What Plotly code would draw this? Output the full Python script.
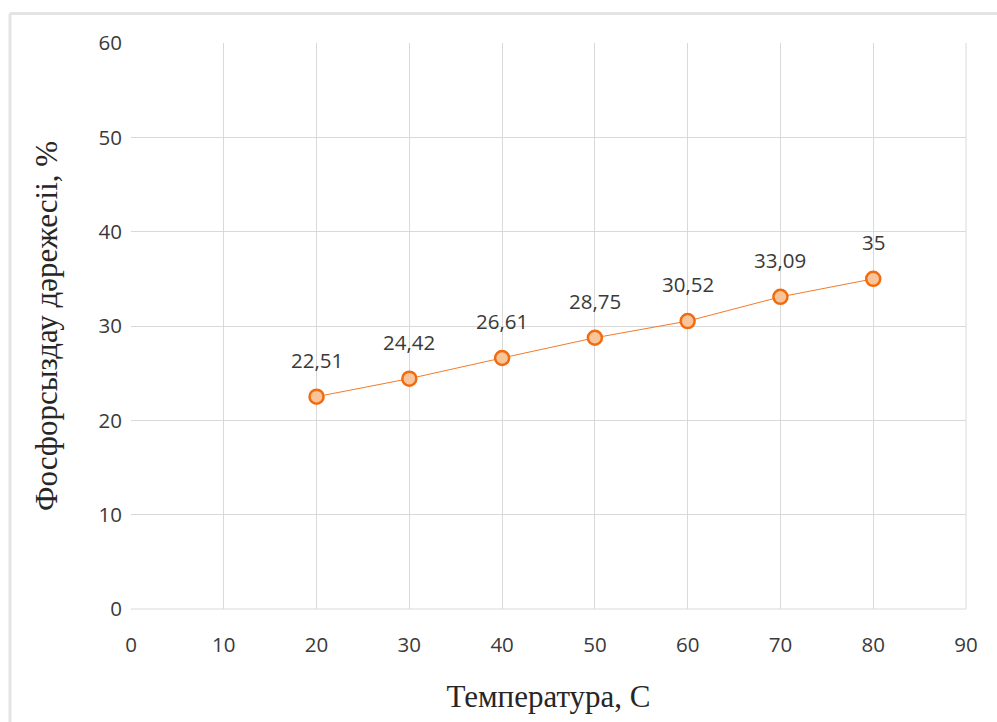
import plotly.graph_objects as go

# Temperature (°C) and dephosphorization degree (%)
temperature = [20, 30, 40, 50, 60, 70, 80]
degree = [22.51, 24.42, 26.61, 28.75, 30.52, 33.09, 35]
degree_labels = ["22,51", "24,42", "26,61", "28,75", "30,52", "33,09", "35"]

x_ticks = [0, 10, 20, 30, 40, 50, 60, 70, 80, 90]
y_ticks = [0, 10, 20, 30, 40, 50, 60]

W, H = 997, 722
L, R, T, B = 131, 31, 43, 113
pw, ph = W - L - R, H - T - B

fig = go.Figure()
fig.add_trace(go.Scatter(
    x=temperature, y=degree, mode="lines+markers",
    line=dict(color="#f47a2a", width=1),
    marker=dict(size=14, color="#f8c49a", line=dict(color="#f26b0f", width=2.5)),
    hoverinfo="skip", showlegend=False,
))

label_font = dict(family="Open Sans, Liberation Sans, sans-serif", size=20.5, color="#3a3a3a")
for xv, yv, lab in zip(temperature, degree, degree_labels):
    fig.add_annotation(x=xv, y=yv, text=lab, showarrow=False, yshift=37, font=label_font)

# light frame around the chart area (top and left edges)
def px_to_paper_x(px):
    return (px - L) / pw

def px_to_paper_y(py):
    return (H - B - py) / ph

fig.add_shape(type="line", xref="paper", yref="paper",
              x0=px_to_paper_x(10), x1=px_to_paper_x(10),
              y0=px_to_paper_y(H + 5), y1=px_to_paper_y(13.5),
              line=dict(color="#e4e4e4", width=3))
fig.add_shape(type="line", xref="paper", yref="paper",
              x0=px_to_paper_x(10), x1=px_to_paper_x(W + 5),
              y0=px_to_paper_y(13.5), y1=px_to_paper_y(13.5),
              line=dict(color="#e4e4e4", width=3))

tick_font = dict(family="Open Sans, Liberation Sans, sans-serif", size=20.5, color="#3a3a3a")
serif = "Liberation Serif, Times New Roman, serif"

fig.update_xaxes(range=[0, 90], tickvals=x_ticks, ticks="", showgrid=True,
                 gridcolor="#d9d9d9", gridwidth=1, zeroline=False, showline=False,
                 tickfont=tick_font, ticklabelstandoff=21,
                 title=dict(text="Температура, С", font=dict(family=serif, size=31, color="#262626"), standoff=28))
fig.update_yaxes(range=[0, 60], tickvals=y_ticks, ticks="", showgrid=True,
                 gridcolor="#d9d9d9", gridwidth=1, zeroline=False, showline=False,
                 tickfont=tick_font, ticklabelstandoff=8,
                 title=dict(text="Фосфорсыздау дәрежесіі, %", font=dict(family=serif, size=31, color="#262626"), standoff=31))

# bottom and right borders of the plot area drawn as gridlines
fig.add_shape(type="line", xref="paper", yref="paper", x0=0, x1=1, y0=0, y1=0,
              line=dict(color="#d9d9d9", width=1), layer="below")
fig.add_shape(type="line", xref="paper", yref="paper", x0=1, x1=1, y0=0, y1=1,
              line=dict(color="#d9d9d9", width=1), layer="below")

fig.update_layout(
    width=W, height=H,
    margin=dict(l=L, r=R, t=T, b=B),
    plot_bgcolor="white", paper_bgcolor="white",
    showlegend=False,
)

fig.write_html("out.html")
